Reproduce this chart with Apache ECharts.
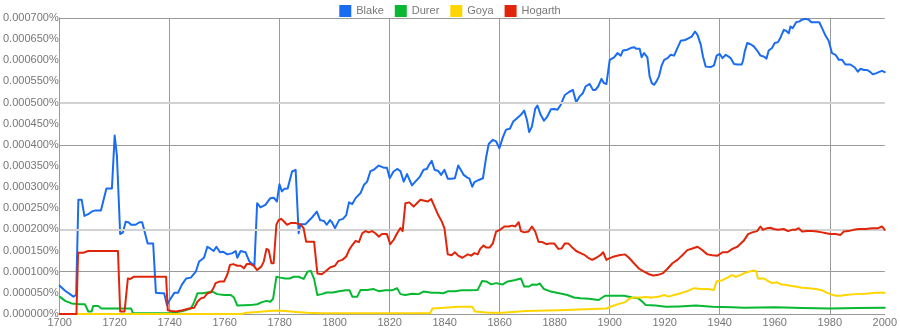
<!DOCTYPE html>
<html>
<head>
<meta charset="utf-8">
<script src="https://cdn.jsdelivr.net/npm/echarts@6/dist/echarts.min.js"></script>
<style>
html,body{margin:0;padding:0;background:#fff;}
#chart{width:900px;height:330px;}
</style>
</head>
<body>
<div id="chart"></div>
<script>
// values in millionths of a percent (e.g. 270 = 0.000270%)
const seriesNames = ['Blake', 'Durer', 'Goya', 'Hogarth'];
const seriesColors = ['#1a6cf0', '#08b832', '#ffd500', '#e0250a'];

const blake = [[1700,67],[1702,55],[1705,41],[1706,45],[1706.8,270],[1708,270],[1709,232],[1710.4,236],[1711.6,242],[1713,245],[1715,245],[1717,297],[1719,297],[1720,422],[1720.8,376],[1722,189],[1723,193],[1724,218],[1725,217],[1726,211],[1727.6,211],[1729,217],[1730,217],[1732,167],[1734,167],[1735,50],[1737,49],[1738,49],[1739,21],[1740,33],[1741.7,50],[1743,50],[1744.5,70],[1746,84],[1747.7,86],[1749.5,100],[1750.7,124],[1752.5,133],[1753.7,159],[1754.7,155],[1756,149],[1757,159],[1758.3,146],[1759.5,147],[1761,141],[1762.8,144],[1764,149],[1764.6,133],[1765.8,149],[1767.6,146],[1769,124],[1770.8,114],[1771.8,262],[1773,252],[1774.8,258],[1776.6,274],[1777.8,275],[1779,266],[1779.9,307],[1780.8,290],[1781.7,296],[1782.9,297],[1784.5,337],[1785.8,341],[1786.9,191],[1787.5,212],[1789.3,212],[1790.5,220],[1792,230],[1793.5,242],[1794.7,222],[1796.1,220],[1797.1,211],[1798.3,222],[1799,217],[1800.1,203],[1801.6,222],[1803,225],[1804.2,234],[1805.2,264],[1806.4,260],[1807.6,274],[1809.4,286],[1810.6,305],[1811.8,313],[1813,338],[1814.2,341],[1816,351],[1817.8,346],[1819,346],[1820,321],[1821.4,337],[1822.7,343],[1823.9,338],[1825.1,313],[1826.3,331],[1826.9,331],[1828.1,304],[1829.3,313],[1831,325],[1832.3,341],[1833.5,343],[1834.3,353],[1835.3,362],[1836.3,341],[1837.7,338],[1838.7,329],[1839.9,341],[1841.1,320],[1842.5,320],[1843.7,321],[1844.9,351],[1846.1,338],[1846.9,329],[1848.1,323],[1849,320],[1850,301],[1850.8,312],[1852.4,317],[1853.9,321],[1855.1,372],[1856,402],[1857.5,412],[1858.7,408],[1859.9,392],[1861.1,417],[1862.3,436],[1863.7,438],[1864.9,455],[1866.1,462],[1867.7,471],[1868.9,481],[1869.9,459],[1870.7,430],[1871.7,443],[1872.9,485],[1873.7,493],[1874.9,471],[1876.1,457],[1877.3,467],[1878.6,484],[1879.8,485],[1881,483],[1882.2,495],[1883.7,518],[1885.2,525],[1886.6,530],[1887.8,501],[1889,514],[1890.2,522],[1891.2,538],[1892.7,544],[1893.9,530],[1894.8,530],[1895.8,538],[1897,556],[1897.9,546],[1898.8,544],[1900,601],[1901.6,607],[1902.8,617],[1904,611],[1904.8,623],[1906.4,625],[1907.6,629],[1908.8,631],[1909.7,627],[1910.9,627],[1911.6,607],[1912.5,617],[1913.7,607],[1914.5,562],[1915.3,546],[1916.1,542],[1917,550],[1917.9,562],[1918.9,588],[1919.8,601],[1921,605],[1922.2,613],[1923.4,611],[1924.6,629],[1925.8,646],[1927.4,648],[1928.6,652],[1929.8,656],[1931,668],[1931.9,660],[1933.1,637],[1933.9,609],[1934.9,585],[1936.7,584],[1937.9,588],[1938.9,611],[1940,615],[1941,605],[1942.2,613],[1944,605],[1945.2,591],[1946.4,590],[1948,590],[1948.5,600],[1949.1,621],[1950,641],[1951.2,638],[1952.4,633],[1953.6,623],[1954.8,611],[1956,609],[1957,604],[1957.8,623],[1959,629],[1960,641],[1961.2,643],[1962.1,654],[1963.3,672],[1964.1,670],[1965.1,664],[1965.7,680],[1966.5,676],[1967.8,690],[1969,692],[1969.9,696],[1971.2,698],[1972.4,696],[1973.3,690],[1974.8,690],[1976.2,690],[1977.2,676],[1978.4,659],[1979.6,646],[1980.8,617],[1982.1,613],[1983.3,601],[1984.5,601],[1985.7,590],[1987.5,590],[1989.1,583],[1990.2,573],[1991.2,580],[1992.4,577],[1993.6,577],[1994.8,572],[1995.6,567],[1996.8,569],[1997.8,572],[1999,575],[2000,572]];

const durer = [[1700,41],[1702,31],[1704.3,25],[1707.3,23],[1709.2,23],[1710.4,6],[1711.6,6],[1712.2,19],[1714,19],[1715.2,13],[1726,13],[1726.6,2],[1740.5,2],[1744.7,7],[1747.7,13],[1748.9,28],[1750.1,49],[1751.9,49],[1753.7,51],[1755.5,53],[1757.3,47],[1759.8,45],[1762.2,45],[1763.4,39],[1764.6,20],[1769.4,21],[1771.8,23],[1773.6,28],[1775.2,31],[1776.6,29],[1777.6,36],[1778.8,88],[1780.2,86],[1782,84],[1783.6,84],[1785.1,88],[1786.9,88],[1788.7,83],[1790.1,100],[1791.3,102],[1792.5,83],[1793.7,45],[1795.3,47],[1797.1,51],[1799.3,51],[1801.6,54],[1804,56],[1805.4,56],[1806.4,41],[1808.2,41],[1809.4,57],[1811.8,57],[1814.2,59],[1816,54],[1818.4,56],[1820.8,56],[1822.7,61],[1823.9,47],[1825.7,45],[1828.1,48],[1830.5,47],[1832.3,53],[1835.3,50],[1837.7,50],[1839.5,49],[1841.3,54],[1843.7,54],[1846.1,56],[1849,56],[1852,57],[1853.6,78],[1855.1,77],[1856.9,70],[1858.7,73],[1861.1,70],[1862.9,77],[1865.3,80],[1867.7,84],[1868.9,65],[1870.7,65],[1871.9,70],[1873.4,69],[1874.6,72],[1876.1,59],[1878.6,53],[1881.6,49],[1884.6,45],[1887,39],[1889.4,37],[1892.4,36],[1896,33],[1897.3,39],[1898.3,43],[1901,43],[1905.2,43],[1908.2,39],[1910.4,37],[1911.9,29],[1913.1,21],[1916.7,20],[1920.4,17],[1925.2,18],[1931.3,20],[1937.3,17],[1944.6,16],[1948.8,15],[1960,16],[1970,14],[1980,13],[1990,14],[2000,15]];

const goya = [[1700,0],[1766,0],[1768,3],[1772,5],[1776,7],[1779,8],[1782,7],[1786,5],[1790,3],[1795,2],[1834.8,2],[1835.5,13],[1840,15],[1845,17],[1850,17],[1851,6],[1856,3],[1861,3],[1869.5,7],[1881.6,9],[1893.6,12],[1898.8,13],[1901,19],[1903.4,24],[1905.6,28],[1907,36],[1908.8,39],[1911.3,39],[1913.1,40],[1914.9,39],[1917.3,40],[1919.8,45],[1921.3,41],[1923.4,45],[1925.8,49],[1928.2,54],[1930.7,61],[1933.1,59],[1935.5,59],[1937.9,57],[1938.8,77],[1941,80],[1942.8,86],[1944.4,92],[1945.8,88],[1947.6,92],[1948.7,96],[1950.5,100],[1952.4,103],[1953.2,102],[1953.9,84],[1956,84],[1957.8,77],[1959,73],[1960.8,75],[1962.4,70],[1963.8,69],[1965.7,67],[1967.5,65],[1969.9,62],[1972.4,61],[1974.8,59],[1977.2,56],[1978.7,51],[1980.2,47],[1982.1,43],[1983.9,43],[1985.7,45],[1989.3,47],[1992.9,48],[1996.6,50],[2000,50]];

const hogarth = [[1700,0],[1706.1,0],[1706.7,145],[1708.6,145],[1710.4,149],[1721.2,149],[1722,6],[1723.6,6],[1724.8,84],[1725.7,83],[1726.9,88],[1738.7,88],[1739.3,9],[1740.5,7],[1742.3,6],[1744.7,9],[1747.1,13],[1748.9,15],[1750.1,29],[1751.3,37],[1752.5,39],[1753.7,49],[1754.9,51],[1755.9,61],[1756.7,73],[1758.3,77],[1759.8,77],[1761,94],[1761.9,116],[1763.1,118],[1764.6,114],[1765.8,114],[1767,108],[1768,118],[1769.4,118],[1770.6,114],[1771.8,104],[1773.3,112],[1774.2,124],[1775.2,154],[1776,151],[1777,120],[1777.8,120],[1778.8,211],[1779.6,222],[1780.5,225],[1781.4,220],[1782.7,211],[1783.9,215],[1785.7,215],[1787.5,212],[1788.7,203],[1789.6,171],[1792.5,171],[1793.7,96],[1795.3,94],[1796.5,100],[1798.3,110],[1800.1,114],[1801.3,125],[1802.8,128],[1804.2,136],[1805.2,151],[1806.4,163],[1807.6,173],[1808.8,170],[1810,191],[1811.2,196],[1812.4,193],[1813.6,196],[1814.8,191],[1816,183],[1817.2,189],[1819,189],[1820.2,165],[1821.4,175],[1822.7,191],[1823.9,203],[1824.7,196],[1825.7,262],[1827.1,264],[1828.7,254],[1829.9,262],[1831.1,270],[1832.7,268],[1833.9,266],[1835.1,272],[1835.9,260],[1837.5,236],[1838.9,219],[1839.9,203],[1841.1,141],[1842.5,139],[1843.7,146],[1844.9,138],[1846.4,133],[1848.4,141],[1849.6,138],[1850.8,144],[1852,141],[1852.9,154],[1854.1,162],[1855.1,157],[1856.3,157],[1857.5,167],[1858.7,195],[1860.1,199],[1861.7,207],[1863.3,207],[1864.5,209],[1865.7,207],[1866.9,217],[1867.7,196],[1868.9,193],[1870.5,195],[1871.7,207],[1872.9,195],[1874.1,171],[1875.5,170],[1877,165],[1878.2,167],[1879.8,167],[1881.3,154],[1882.5,155],[1883.7,167],[1884.9,167],[1886.4,157],[1887.8,149],[1889.4,144],[1891,139],[1892.4,132],[1893.6,128],[1895.1,133],[1896.6,139],[1897.6,146],[1898.8,128],[1900,132],[1901.6,136],[1903.4,139],[1905.6,141],[1907,133],[1908.8,120],[1910.7,107],[1912.5,100],[1914.3,94],[1915.8,91],[1917.3,92],[1919.2,96],[1921,107],[1922.8,120],[1924.6,128],[1926.4,139],[1928.2,151],[1930.1,155],[1931.9,159],[1933.7,151],[1935.5,141],[1937.3,139],[1939.2,138],[1941,146],[1942.8,146],[1944.6,154],[1946.4,159],[1948.7,173],[1950.3,189],[1951.8,193],[1953.6,196],[1954.8,207],[1955.7,199],[1957.2,203],[1958.4,204],[1959.6,201],[1961.2,199],[1963.3,201],[1964.8,196],[1966.3,199],[1967.5,199],[1968.7,203],[1969.9,195],[1971.8,196],[1973.6,196],[1975.4,195],[1977.2,193],[1978.7,191],[1980.2,189],[1982.1,189],[1983.9,187],[1985.1,195],[1986.7,196],[1988.7,199],[1990.5,201],[1993,201],[1995.4,203],[1997.6,203],[1999,207],[2000,199]];

const seriesData = [blake, durer, goya, hogarth];
const yearMin = 1700, yearMax = 2000;
const valueMax = 700;
const lightGridValues = [200, 500];

const chart = echarts.init(document.getElementById('chart'), null, {renderer: 'canvas'});
const font = 'Arial, "Liberation Sans", sans-serif';

const series = seriesNames.map((n, i) => ({
  name: n,
  type: 'line',
  data: seriesData[i],
  showSymbol: false,
  smooth: false,
  xAxisIndex: 0,
  yAxisIndex: 0,
  lineStyle: {width: 2, color: seriesColors[i], join: 'round', cap: 'round'},
  itemStyle: {color: seriesColors[i]},
  z: 3 + i,
  animation: false
}));
series.unshift({
  name: 'grid-light',
  type: 'line',
  data: [],
  z: 1,
  silent: true,
  markLine: {
    silent: true,
    symbol: ['none', 'none'],
    label: {show: false},
    lineStyle: {color: '#d2d2d2', width: 2, type: 'solid'},
    data: lightGridValues.map(v => ({yAxis: v})),
    animation: false
  }
});

chart.setOption({
  animation: false,
  backgroundColor: '#fff',
  textStyle: {fontFamily: font},
  legend: {
    data: seriesNames,
    top: 0,
    left: 'center',
    icon: 'rect',
    itemWidth: 12,
    itemHeight: 12,
    itemGap: 11,
    textStyle: {color: '#777', fontSize: 11, fontFamily: font}
  },
  grid: {left: 58, right: 14, top: 18, bottom: 16, containLabel: false},
  xAxis: [{
    type: 'value', min: yearMin, max: yearMax, interval: 20,
    axisLine: {show: true, lineStyle: {color: '#999', width: 1}},
    axisTick: {show: false},
    splitLine: {show: false},
    axisLabel: {color: '#777', fontSize: 11, margin: 3, fontFamily: font, formatter: v => String(v)}
  }, {
    type: 'value', min: yearMin, max: yearMax, interval: 40, position: 'bottom',
    axisLine: {show: false}, axisTick: {show: false}, axisLabel: {show: false},
    splitLine: {show: true, showMinLine: false, showMaxLine: false, lineStyle: {color: '#9a9a9a', width: 1}}
  }],
  yAxis: [{
    type: 'value', min: 0, max: valueMax, interval: 50,
    axisLine: {show: true, lineStyle: {color: '#999', width: 1}},
    axisTick: {show: false},
    splitLine: {show: false},
    axisLabel: {color: '#777', fontSize: 11, margin: 1, fontFamily: font,
      formatter: v => (v / 1e6).toFixed(6) + '%'}
  }, {
    type: 'value', min: 0, max: valueMax, interval: 100, position: 'left',
    axisLine: {show: false}, axisTick: {show: false}, axisLabel: {show: false},
    splitLine: {show: true, showMinLine: false, lineStyle: {color: ['#9a9a9a','#9a9a9a','transparent','#9a9a9a','#9a9a9a','transparent','#9a9a9a','#9a9a9a'], width: 1}}
  }],
  series: series
});
</script>
</body>
</html>
